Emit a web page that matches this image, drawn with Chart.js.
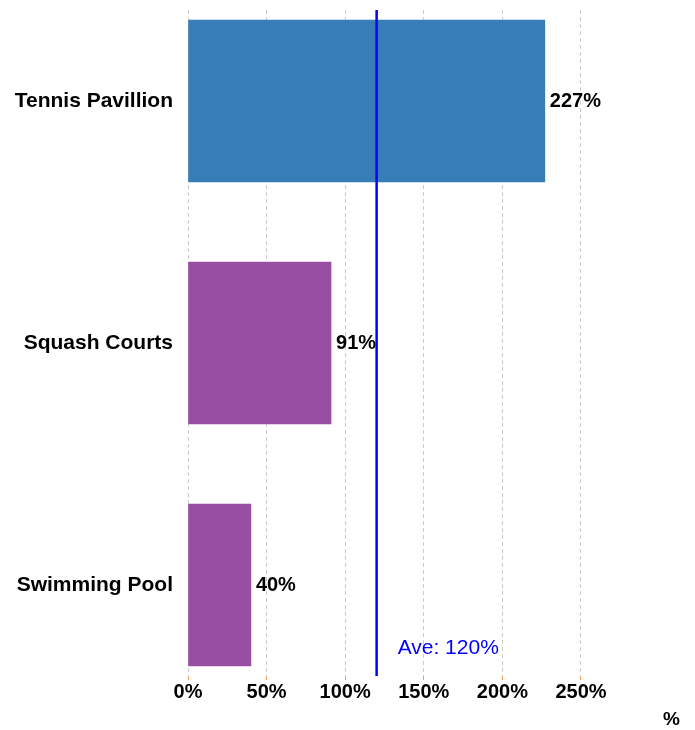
<!DOCTYPE html>
<html>
<head>
<meta charset="utf-8">
<script src="https://cdn.jsdelivr.net/npm/chart.js@4"></script>
<style>
html,body{margin:0;padding:0;background:#fff;}
#wrap{width:695px;height:730px;}
</style>
</head>
<body>
<div id="wrap"><canvas id="c" width="695" height="730"></canvas></div>
<script>
const categories = ["Tennis Pavillion", "Squash Courts", "Swimming Pool"];
const values = [227, 91, 40];
const barColors = ["#377eb8", "#984ea3", "#984ea3"];
const averageValue = [120];
const averageLabel = ["Ave: 120%"];
const xTicks = [0, 50, 100, 150, 200, 250];
const axisTitle = "%";

const FONT = "'Liberation Sans', Arial, sans-serif";

const overlay = {
  id: 'overlay',
  afterDatasetsDraw(chart) {
    const ctx = chart.ctx;
    const xs = chart.scales.x;
    const meta = chart.getDatasetMeta(0);
    const area = chart.chartArea;
    ctx.save();
    ctx.font = "bold 20px " + FONT;
    ctx.fillStyle = "#000";
    ctx.textAlign = "left";
    ctx.textBaseline = "middle";
    meta.data.forEach((bar, i) => {
      ctx.fillText(values[i] + "%", bar.x + 5, bar.y);
    });
    const ax = xs.getPixelForValue(averageValue[0]);
    ctx.strokeStyle = "#0000ff";
    ctx.lineWidth = 2.5;
    ctx.beginPath();
    ctx.moveTo(ax, area.top);
    ctx.lineTo(ax, area.bottom);
    ctx.stroke();
    ctx.font = "21px " + FONT;
    ctx.fillStyle = "#0000ff";
    ctx.fillText(averageLabel[0], ax + 21, area.bottom - 28);
    ctx.restore();
  }
};

new Chart(document.getElementById('c'), {
  type: 'bar',
  data: {
    datasets: [{
      data: values.map((v, i) => ({x: v, y: i})),
      backgroundColor: barColors,
      borderWidth: 0,
      barThickness: 162
    }]
  },
  options: {
    indexAxis: 'y',
    responsive: false,
    animation: false,
    layout: {padding: {left: 0, right: 15, top: 10, bottom: 1}},
    plugins: {legend: {display: false}, tooltip: {enabled: false}},
    scales: {
      y: {
        type: 'linear',
        reverse: true,
        offset: false,
        bounds: 'data',
        grace: 0,
        min: -0.376,
        max: 2.376,
        afterBuildTicks(scale) { scale.ticks = categories.map((c, i) => ({value: i})); },
        afterFit(scale) { scale.width = 188; scale.paddingTop = 0; scale.paddingBottom = 0; },
        ticks: {
          callback: (v) => categories[v] ?? '',
          font: {family: FONT, size: 21, weight: 'bold'},
          color: '#000',
          padding: 15
        },
        grid: {display: false, drawTicks: false},
        border: {display: false}
      },
      x: {
        type: 'linear',
        min: 0,
        max: 313,
        afterBuildTicks(scale) { scale.ticks = xTicks.map(v => ({value: v})); },
        afterFit(scale) { scale.paddingLeft = 0; scale.paddingRight = 0; },
        ticks: {
          callback: (v) => v + '%',
          font: {family: FONT, size: 20, weight: 'bold'},
          color: '#000',
          padding: 0,
          maxRotation: 0
        },
        grid: {
          color: '#cccccc',
          tickColor: '#f4a460',
          tickLength: 4,
          lineWidth: 1
        },
        border: {display: false, dash: [4, 3]},
        title: {
          display: true,
          text: axisTitle,
          align: 'end',
          font: {family: FONT, size: 19, weight: 'bold', lineHeight: 1},
          color: '#000',
          padding: {top: 6, bottom: 0}
        }
      }
    }
  },
  plugins: [overlay]
});
</script>
</body>
</html>
